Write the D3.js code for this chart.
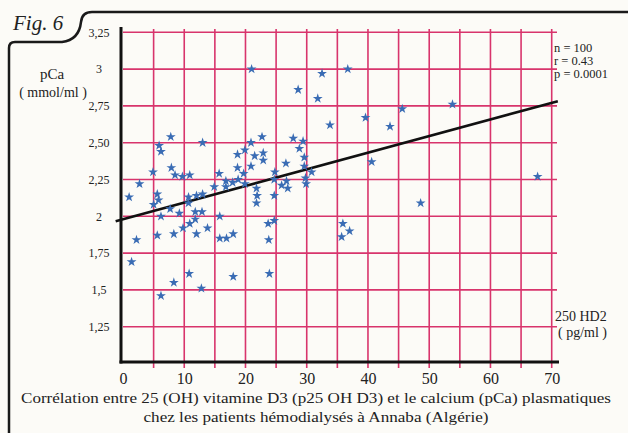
<!DOCTYPE html>
<html>
<head>
<meta charset="utf-8">
<script src="https://cdn.jsdelivr.net/npm/d3@7.9.0/dist/d3.min.js"></script>
<style>
  html, body { margin: 0; padding: 0; background: #fcfbf7; }
  svg { display: block; }
  text { font-family: "Liberation Serif", "DejaVu Serif", serif; fill: #222; }
</style>
</head>
<body>
<svg id="chart" width="628" height="433"></svg>
<script>
// ---- data ----
// 250 HD2 (pg/ml)
const vitD = [
  21, 32.5, 36.7, 28.6, 31.8, 33.8, 39.6, 43.6, 45.6, 53.8,
  40.6, 67.7, 48.6, 35.9, 37.0, 35.7, 29.4, 29.6, 29.6, 30.8,
  29.8, 29.9, 28.8, 27.8, 26.6, 26.7, 26.9, 25.9, 24.8, 24.7,
  24.7, 22.7, 22.9, 22.9, 21.5, 20.9, 19.9, 18.7, 18.7, 20.9,
  19.7, 19.9, 18.8, 17.9, 16.8, 16.8, 14.9, 15.7, 21.8, 21.9,
  21.8, 23.7, 24.7, 23.8, 23.9, 18.0, 18.0, 16.9, 15.8, 15.8,
  13.8, 13.0, 13.0, 12.0, 10.7, 10.7, 11.8, 12.9, 11.8, 10.9,
  9.8, 9.2, 7.7, 6.2, 5.0, 5.8, 5.6, 4.9, 2.7, 1.0,
  2.2, 1.4, 5.6, 8.3, 12.0, 7.9, 8.5, 9.7, 10.9, 7.8,
  5.9, 6.2, 10.8, 8.3, 12.8, 6.2
];
// pCa (mmol/ml)
const pCa = [
  3.00, 2.97, 3.00, 2.86, 2.80, 2.62, 2.67, 2.61, 2.73, 2.76,
  2.37, 2.27, 2.09, 1.95, 1.90, 1.86, 2.51, 2.40, 2.34, 2.30,
  2.26, 2.22, 2.46, 2.53, 2.36, 2.24, 2.19, 2.21, 2.30, 2.25,
  2.14, 2.54, 2.43, 2.38, 2.41, 2.50, 2.45, 2.42, 2.33, 2.34,
  2.29, 2.22, 2.25, 2.23, 2.24, 2.20, 2.20, 2.29, 2.19, 2.14,
  2.09, 1.95, 1.97, 1.84, 1.61, 1.59, 1.88, 1.85, 1.85, 2.00,
  1.92, 2.50, 2.15, 2.14, 2.13, 2.09, 2.03, 2.03, 1.98, 1.95,
  1.92, 2.02, 2.05, 2.00, 2.08, 2.11, 2.15, 2.30, 2.22, 2.13,
  1.84, 1.69, 1.87, 1.88, 1.88, 2.33, 2.28, 2.27, 2.28, 2.54,
  2.48, 2.44, 1.61, 1.55, 1.51, 1.46
];

const xTicks = [0, 10, 20, 30, 40, 50, 60, 70];
const xGrid = [5, 10, 15, 20, 25, 30, 35, 40, 45, 50, 55, 60, 65, 70];
const yTicks = [1.25, 1.5, 1.75, 2, 2.25, 2.5, 2.75, 3, 3.25];
const yTickLabels = ['1,25', '1,5', '1,75', '2', '2,25', '2,50', '2,75', '3', '3,25'];

// regression line: pCa = a + b * HD2
const regIntercept = 1.98;
const regSlope = 0.0113;
const regRange = [-1.2, 71];

const stats = ['n =  100', 'r  =  0.43', 'p =  0.0001'];

// ---- scales ----
const svg = d3.select('#chart');
const x = d3.scaleLinear().domain([0, 70]).range([123, 551.7]);
const y = d3.scaleLinear().domain([1.25, 3.25]).range([326.7, 32.3]);
const xAxisY = 362;
const gridRight = 557;
const gridColor = '#d8346c';

// ---- frame with Fig. tab ----
svg.append('path')
  .attr('d', 'M9,433 V48 Q9,42 15,42 H62 Q79,40 81,22 Q82,12 92,12 H628')
  .attr('fill', 'none')
  .attr('stroke', '#1a1a1a')
  .attr('stroke-width', 2.5);

svg.append('text')
  .attr('x', 13).attr('y', 30)
  .style('font-size', '21px')
  .style('font-style', 'italic')
  .text('Fig. 6');

// ---- grid ----
svg.append('g')
  .selectAll('line')
  .data(yTicks)
  .join('line')
  .attr('x1', x(0)).attr('x2', gridRight)
  .attr('y1', d => y(d)).attr('y2', d => y(d))
  .attr('stroke', gridColor)
  .attr('stroke-width', 1.6);

svg.append('g')
  .selectAll('line')
  .data(xGrid)
  .join('line')
  .attr('x1', d => x(d)).attr('x2', d => x(d))
  .attr('y1', 29).attr('y2', xAxisY + 6)
  .attr('stroke', gridColor)
  .attr('stroke-width', 1.6);

// ---- axes lines ----
svg.append('line')
  .attr('x1', 121).attr('x2', 121)
  .attr('y1', 27).attr('y2', xAxisY + 1.5)
  .attr('stroke', '#111').attr('stroke-width', 3);

svg.append('line')
  .attr('x1', 119.5).attr('x2', 559)
  .attr('y1', xAxisY).attr('y2', xAxisY)
  .attr('stroke', '#111').attr('stroke-width', 3);

// ---- tick labels ----
const xAxis = d3.axisBottom(x).tickValues(xTicks).tickSize(0).tickPadding(0);
const gx = svg.append('g')
  .attr('transform', `translate(0,${xAxisY + 22})`)
  .call(xAxis);
gx.select('.domain').remove();
gx.selectAll('text')
  .attr('dy', 0)
  .style('font-family', '"Liberation Serif", serif')
  .style('font-size', '16px')
  .attr('fill', '#222');

svg.append('g')
  .selectAll('text')
  .data(yTicks)
  .join('text')
  .attr('x', 99)
  .attr('y', d => y(d))
  .attr('dy', '0.35em')
  .attr('text-anchor', 'middle')
  .style('font-size', '12px')
  .text((d, i) => yTickLabels[i]);

// ---- axis titles ----
svg.append('text').attr('x', 52).attr('y', 79)
  .attr('text-anchor', 'middle').style('font-size', '15px').text('pCa');
svg.append('text').attr('x', 53).attr('y', 97)
  .attr('text-anchor', 'middle').style('font-size', '14px').text('( mmol/ml )');

svg.append('text').attr('x', 555).attr('y', 321)
  .style('font-size', '14px').text('250 HD2');
svg.append('text').attr('x', 558).attr('y', 337)
  .style('font-size', '14px').text('( pg/ml )');

// ---- stats ----
svg.append('g')
  .selectAll('text')
  .data(stats)
  .join('text')
  .attr('x', 554)
  .attr('y', (d, i) => 52 + i * 12.8)
  .style('font-size', '12.5px')
  .text(d => d);

// ---- regression line ----
svg.append('line')
  .attr('x1', x(regRange[0])).attr('y1', y(regIntercept + regSlope * regRange[0]))
  .attr('x2', x(regRange[1])).attr('y2', y(regIntercept + regSlope * regRange[1]))
  .attr('stroke', '#111')
  .attr('stroke-width', 2.6);

// ---- points ----
const star = d3.symbol().type(d3.symbolStar).size(30);
svg.append('g')
  .selectAll('path')
  .data(vitD.map((v, i) => ({ x: v, y: pCa[i] })))
  .join('path')
  .attr('transform', d => `translate(${x(d.x)},${y(d.y)})`)
  .attr('d', star)
  .attr('fill', '#3a6cb4');

// ---- caption ----
svg.append('text').attr('x', 316).attr('y', 403)
  .attr('text-anchor', 'middle')
  .attr('textLength', 590).attr('lengthAdjust', 'spacingAndGlyphs')
  .style('font-size', '15px')
  .text('Corrélation entre 25 (OH) vitamine D3 (p25 OH D3) et le calcium (pCa) plasmatiques');
svg.append('text').attr('x', 316).attr('y', 422)
  .attr('text-anchor', 'middle')
  .attr('textLength', 345).attr('lengthAdjust', 'spacingAndGlyphs')
  .style('font-size', '15px')
  .text('chez les patients hémodialysés à Annaba (Algérie)');
</script>
</body>
</html>
